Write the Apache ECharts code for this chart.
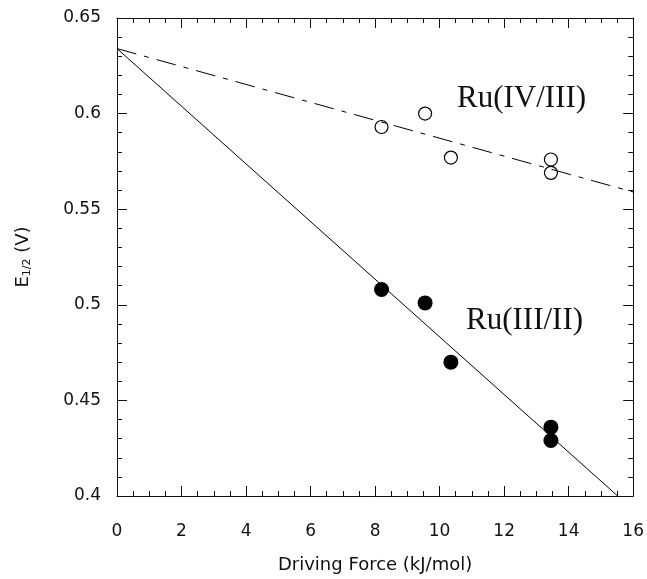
<!DOCTYPE html>
<html>
<head>
<meta charset="utf-8">
<script src="https://cdn.jsdelivr.net/npm/echarts@6/dist/echarts.min.js"></script>
<style>
  html, body { margin: 0; padding: 0; background: #fff; }
  #chart { width: 647px; height: 579px; }
</style>
</head>
<body>
<div id="chart"></div>
<script>
// 数据
var forceX = [8.2, 9.55, 10.35, 13.45, 13.45];
var ru43 = [0.593, 0.600, 0.577, 0.576, 0.569];   // open circles
var ru32 = [0.508, 0.501, 0.470, 0.436, 0.429];   // filled circles
// fitted lines, end points
var fit43X = [0, 16];
var fit43Y = [0.634, 0.559];
var fit32X = [0, 15.52];
var fit32Y = [0.634, 0.400];
var xTicks = [0, 2, 4, 6, 8, 10, 12, 14, 16];
var yTicks = [0.4, 0.45, 0.5, 0.55, 0.6, 0.65];

function pairs(xs, ys) {
    return xs.map(function (x, i) { return [x, ys[i]]; });
}

var chart = echarts.init(document.getElementById('chart'));
var axisCol = '#111';
var sans = 'DejaVu Sans';

function frameAxis(extra) {
    var base = {
        type: 'value',
        axisLine: { show: true, onZero: false, lineStyle: { color: axisCol, width: 1 } },
        axisTick: { show: true, inside: true, length: 10, lineStyle: { color: axisCol } },
        minorTick: { show: true, length: 5, lineStyle: { color: axisCol } },
        splitLine: { show: false },
        axisLabel: { show: false }
    };
    return Object.assign(base, extra);
}

var option = {
    backgroundColor: '#fff',
    animation: false,
    grid: { left: 117, right: 11, top: 18, bottom: 83 },
    xAxis: [
        frameAxis({
            min: xTicks[0], max: xTicks[xTicks.length - 1], interval: 2,
            position: 'bottom',
            minorTick: { show: true, splitNumber: 4, length: 5, lineStyle: { color: axisCol } },
            axisLabel: { show: true, margin: 27, fontFamily: sans, fontSize: 17, color: '#111' },
            name: 'Driving Force (kJ/mol)',
            nameLocation: 'middle',
            nameGap: 60,
            nameTextStyle: { fontFamily: sans, fontSize: 18, color: '#111' }
        }),
        frameAxis({
            min: xTicks[0], max: xTicks[xTicks.length - 1], interval: 2,
            position: 'top',
            minorTick: { show: true, splitNumber: 4, length: 5, lineStyle: { color: axisCol } }
        })
    ],
    yAxis: [
        frameAxis({
            min: yTicks[0], max: yTicks[yTicks.length - 1], interval: 0.05,
            position: 'left',
            minorTick: { show: true, splitNumber: 5, length: 5, lineStyle: { color: axisCol } },
            axisLabel: { show: true, margin: 16, fontFamily: sans, fontSize: 17, color: '#111' },
            name: '{a|E}{b|1/2}{a| (V)}',
            nameLocation: 'middle',
            nameRotate: 90,
            nameGap: 84,
            nameTextStyle: {
                rich: {
                    a: { fontFamily: sans, fontSize: 18, color: '#111' },
                    b: { fontFamily: sans, fontSize: 11, color: '#111', verticalAlign: 'bottom', padding: [8, 0, 0, 0] }
                }
            }
        }),
        frameAxis({
            min: yTicks[0], max: yTicks[yTicks.length - 1], interval: 0.05,
            position: 'right',
            minorTick: { show: true, splitNumber: 5, length: 5, lineStyle: { color: axisCol } }
        })
    ],
    graphic: [
        {
            type: 'text', left: 457, top: 83,
            style: { text: 'Ru(IV/III)', font: '31px "Liberation Serif"', fill: '#111' }
        },
        {
            type: 'text', left: 466, top: 305,
            style: { text: 'Ru(III/II)', font: '31px "Liberation Serif"', fill: '#111' }
        }
    ],
    series: [
        {
            type: 'line',
            data: pairs(fit43X, fit43Y),
            showSymbol: false, symbol: 'none',
            lineStyle: { color: '#000', width: 1, type: [20, 8, 5, 8] },
            z: 1
        },
        {
            type: 'line',
            data: pairs(fit32X, fit32Y),
            showSymbol: false, symbol: 'none',
            lineStyle: { color: '#000', width: 1, type: 'solid' },
            z: 1
        },
        {
            type: 'scatter',
            data: pairs(forceX, ru43),
            symbol: 'circle', symbolSize: 13,
            itemStyle: { color: 'rgba(255,255,255,0)', borderColor: '#000', borderWidth: 1.2, opacity: 1 },
            z: 3
        },
        {
            type: 'scatter',
            data: pairs(forceX, ru32),
            symbol: 'circle', symbolSize: 15,
            itemStyle: { color: '#000', opacity: 1 },
            z: 3
        }
    ]
};

chart.setOption(option);
</script>
</body>
</html>
